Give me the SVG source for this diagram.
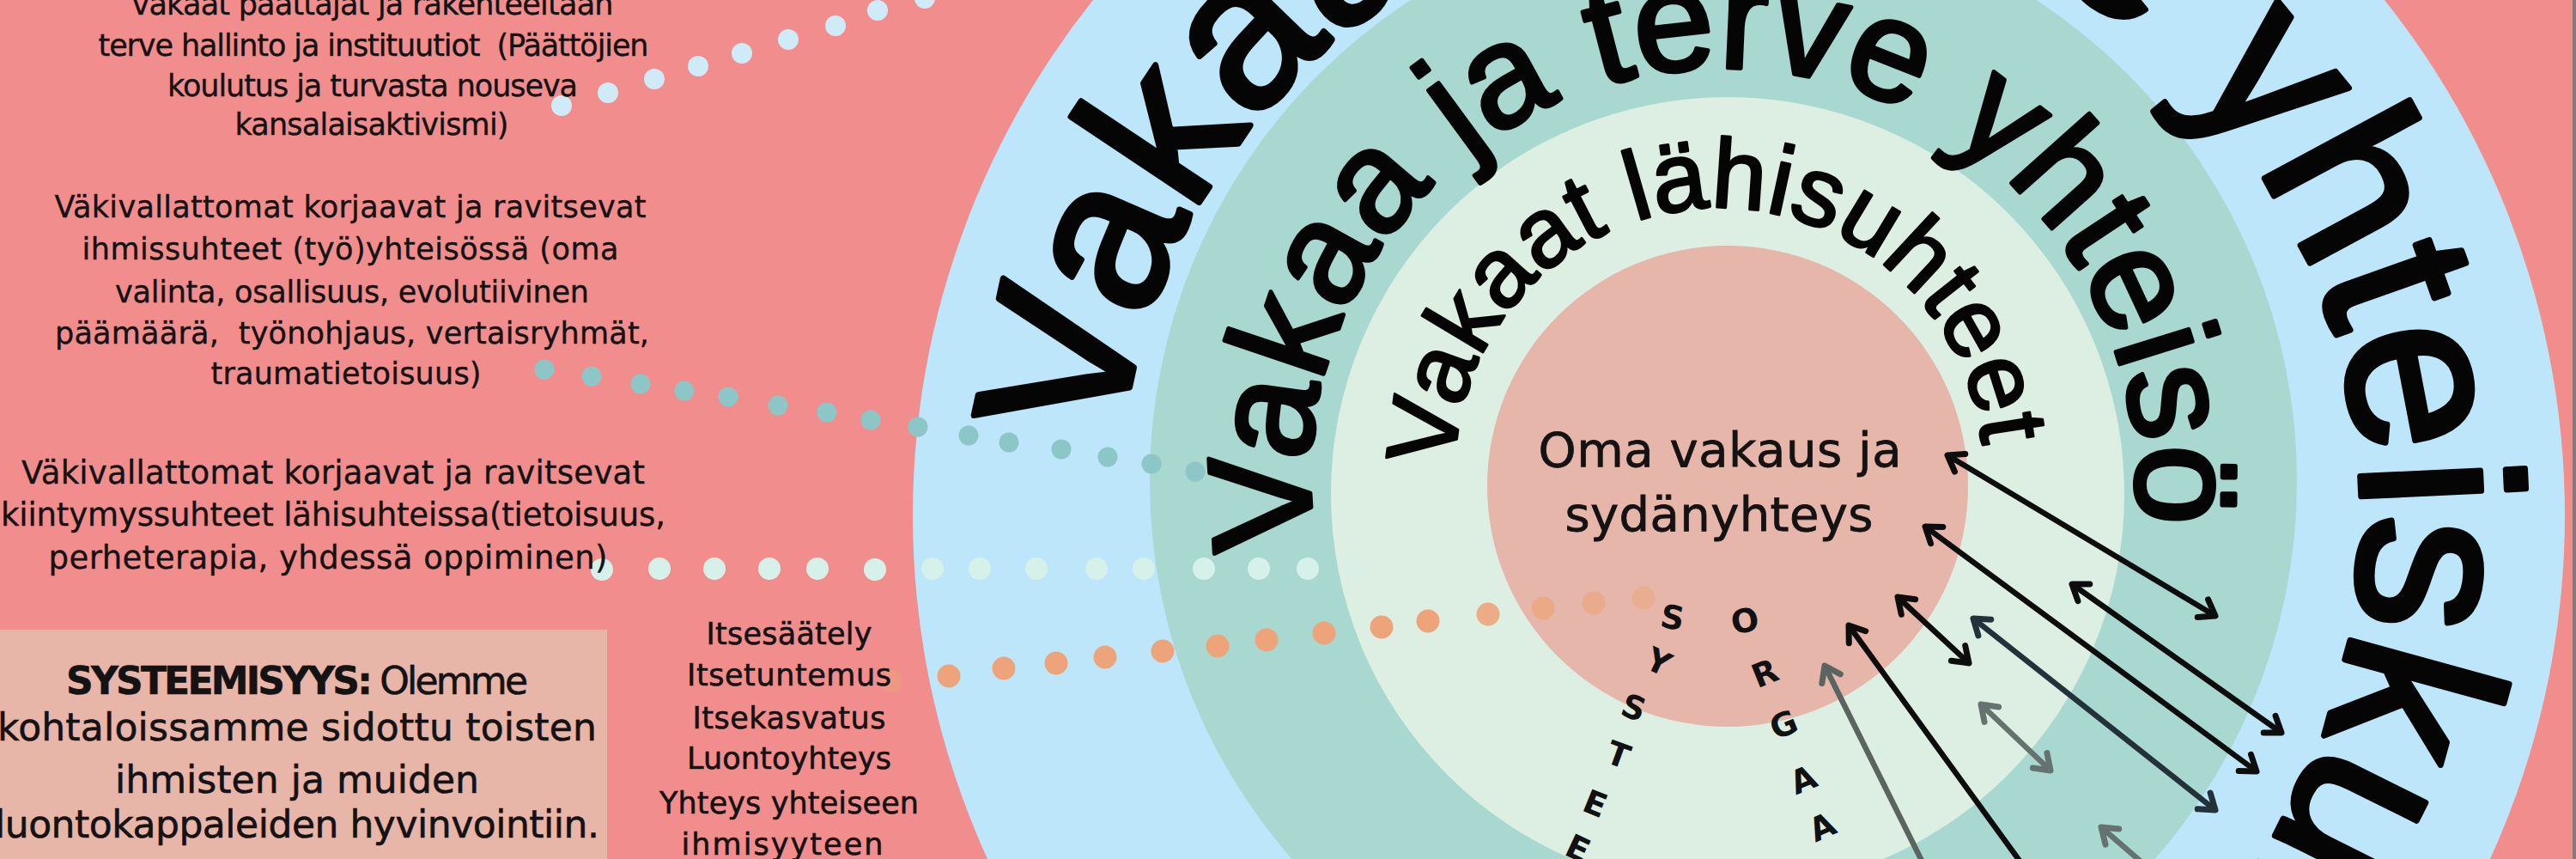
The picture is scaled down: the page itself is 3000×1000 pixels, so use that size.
<svg xmlns="http://www.w3.org/2000/svg" width="3000" height="1000" viewBox="0 0 3000 1000">
<defs>
<style>
.t{font-family:"DejaVu Sans","Noto Sans",sans-serif;fill:#141212;text-anchor:middle;stroke:#141212;stroke-width:0.4px;}
.f35{font-size:35px;}
.f37{font-size:37px;}
.f44{font-size:44px;}
.f56{font-size:56px;stroke-width:0.8px;}
.med{stroke-width:0.6px;}
.ring{font-family:"Liberation Sans",Arial,sans-serif;fill:#050505;stroke:#050505;stroke-linejoin:round;}
.lt{font-family:"DejaVu Sans",sans-serif;font-weight:bold;font-size:38px;fill:#111;text-anchor:middle;}
.db{fill:#CFEBF8;}
.dt{fill:#8DC6C6;}
.dp{fill:#D6F1EA;}
.do{fill:#EDA47B;}
.ln{fill:none;stroke-width:6.5px;}
.k{stroke:#0d0d0d;}
.dk{stroke:#23313a;}
.gr{stroke:#5c6462;}
.gr2{stroke:#65726f;}
</style>
<path id="pOuter" d="M2025,1325 A725,725 0 1,1 2025,-125 A725,725 0 1,1 2025,1325"/>
<path id="pMid" d="M2007,1041 A481,481 0 1,1 2007,79 A481,481 0 1,1 2007,1041"/>
<path id="pIn" d="M2002,858 A308,308 0 1,1 2002,242 A308,308 0 1,1 2002,858"/>
<marker id="mk" viewBox="-24 -17 28 34" refX="0" refY="0" markerWidth="28" markerHeight="34" markerUnits="userSpaceOnUse" orient="auto-start-reverse"><path d="M-17,-12 L0,0 L-17,12" fill="none" stroke="#0d0d0d" stroke-width="7" stroke-linecap="round" stroke-linejoin="round"/></marker>
<marker id="mdk" viewBox="-24 -17 28 34" refX="0" refY="0" markerWidth="28" markerHeight="34" markerUnits="userSpaceOnUse" orient="auto-start-reverse"><path d="M-17,-12 L0,0 L-17,12" fill="none" stroke="#23313a" stroke-width="7" stroke-linecap="round" stroke-linejoin="round"/></marker>
<marker id="mgr" viewBox="-24 -17 28 34" refX="0" refY="0" markerWidth="28" markerHeight="34" markerUnits="userSpaceOnUse" orient="auto-start-reverse"><path d="M-17,-12 L0,0 L-17,12" fill="none" stroke="#5c6462" stroke-width="7" stroke-linecap="round" stroke-linejoin="round"/></marker>
<marker id="mgr2" viewBox="-24 -17 28 34" refX="0" refY="0" markerWidth="28" markerHeight="34" markerUnits="userSpaceOnUse" orient="auto-start-reverse"><path d="M-17,-12 L0,0 L-17,12" fill="none" stroke="#65726f" stroke-width="7" stroke-linecap="round" stroke-linejoin="round"/></marker>
</defs>

<rect x="0" y="0" width="3000" height="1000" fill="#F18E8D"/>
<rect x="2996" y="0" width="4" height="1000" fill="#8a7676"/>

<g id="rings">
<circle id="ring-society" cx="2025" cy="600" r="962" fill="#BDE6FA"/>
<circle id="ring-community" cx="2007" cy="560" r="668" fill="#A9D8D1"/>
<circle id="ring-close" cx="2012" cy="575" r="462" fill="#DDEEE3"/>
<circle id="ring-self" cx="2012" cy="566" r="280" fill="#E5B6A9"/>
</g>

<g id="ring-labels">
<text class="ring" font-size="248" stroke-width="7"><textPath href="#pOuter" startOffset="1218">Vakaa ja terve</textPath></text>
<text class="ring" font-size="265" stroke-width="7"><textPath href="#pOuter" startOffset="2852">yhteiskunta</textPath></text>
<text class="ring" font-size="168" stroke-width="5"><textPath href="#pMid" startOffset="677">Vakaa ja terve yhteisö</textPath></text>
<text class="ring" font-size="114" stroke-width="3"><textPath href="#pIn" startOffset="490">Vakaat lähisuhteet</textPath></text>
</g>

<g id="node-self">
<text class="t f56" x="2003" y="543" textLength="423">Oma vakaus ja</text>
<text class="t f56" x="2002" y="618" textLength="359">sydänyhteys</text>
</g>

<g id="connectors">
<g id="dots-society">
<circle class="db" cx="654" cy="123" r="12"/>
<circle class="db" cx="708" cy="108" r="12"/>
<circle class="db" cx="762" cy="92" r="12"/>
<circle class="db" cx="813" cy="77" r="12"/>
<circle class="db" cx="864" cy="62" r="12"/>
<circle class="db" cx="918" cy="46" r="12"/>
<circle class="db" cx="973" cy="30" r="12"/>
<circle class="db" cx="1022" cy="12" r="12"/>
<circle class="db" cx="1077" cy="-2" r="12"/>
</g>
<g id="dots-community">
<circle class="dt" cx="634" cy="430" r="11.5"/>
<circle class="dt" cx="689" cy="438" r="11.5"/>
<circle class="dt" cx="746" cy="447" r="11.5"/>
<circle class="dt" cx="797" cy="455" r="11.5"/>
<circle class="dt" cx="848" cy="462" r="11.5"/>
<circle class="dt" cx="906" cy="472" r="11.5"/>
<circle class="dt" cx="963" cy="480" r="11.5"/>
<circle class="dt" cx="1014" cy="489" r="11.5"/>
<circle class="dt" cx="1069" cy="497" r="11.5"/>
<circle class="dt" cx="1128" cy="507" r="11.5"/>
<circle class="dt" cx="1175" cy="515" r="11.5"/>
<circle class="dt" cx="1236" cy="523" r="11.5"/>
<circle class="dt" cx="1290" cy="532" r="11.5"/>
<circle class="dt" cx="1341" cy="540" r="11.5"/>
<circle class="dt" cx="1392" cy="549" r="11.5"/>
</g>
<g id="dots-close">
<circle class="dp" cx="701" cy="663" r="13"/>
<circle class="dp" cx="768" cy="662" r="13"/>
<circle class="dp" cx="832" cy="662" r="13"/>
<circle class="dp" cx="896" cy="662" r="13"/>
<circle class="dp" cx="952" cy="662" r="13"/>
<circle class="dp" cx="1019" cy="663" r="13"/>
<circle class="dp" cx="1086" cy="662" r="13"/>
<circle class="dp" cx="1141" cy="662" r="13"/>
<circle class="dp" cx="1207" cy="662" r="13"/>
<circle class="dp" cx="1277" cy="662" r="13"/>
<circle class="dp" cx="1332" cy="662" r="13"/>
<circle class="dp" cx="1402" cy="662" r="13"/>
<circle class="dp" cx="1466" cy="662" r="13"/>
<circle class="dp" cx="1523" cy="662" r="13"/>
<circle class="dp" cx="1580" cy="662" r="13" opacity="0.45"/>
</g>
<g id="dots-self">
<circle class="do" cx="1038" cy="793" r="13.5" opacity="0.4"/>
<circle class="do" cx="1105" cy="787" r="13.5"/>
<circle class="do" cx="1169" cy="778" r="13.5"/>
<circle class="do" cx="1230" cy="772" r="13.5"/>
<circle class="do" cx="1287" cy="765" r="13.5"/>
<circle class="do" cx="1354" cy="758" r="13.5"/>
<circle class="do" cx="1418" cy="752" r="13.5"/>
<circle class="do" cx="1475" cy="745" r="13.5"/>
<circle class="do" cx="1542" cy="737" r="13.5"/>
<circle class="do" cx="1609" cy="730" r="13.5"/>
<circle class="do" cx="1663" cy="723" r="13.5"/>
<circle class="do" cx="1733" cy="715" r="13.5" opacity="0.9"/>
<circle class="do" cx="1797" cy="708" r="13.5" opacity="0.75"/>
<circle class="do" cx="1856" cy="702" r="13.5" opacity="0.6"/>
<circle class="do" cx="1914" cy="696" r="13.5" opacity="0.5"/>
</g>
<g id="arrows">
<path class="ln k" d="M2268,530 L2580,717" marker-start="url(#mk)" marker-end="url(#mk)"/>
<path class="ln k" d="M2242,613 L2628,898" marker-start="url(#mk)" marker-end="url(#mk)"/>
<path class="ln k" d="M2413,680 L2657,853" marker-start="url(#mk)" marker-end="url(#mk)"/>
<path class="ln k" d="M2210,695 L2293,772" marker-start="url(#mk)" marker-end="url(#mk)"/>
<path class="ln dk" d="M2298,720 L2580,943" marker-start="url(#mdk)" marker-end="url(#mdk)"/>
<path class="ln k" d="M2153,728 L2365,1020" marker-start="url(#mk)"/>
<path class="ln gr" d="M2125,775 L2247,1020" marker-start="url(#mgr)"/>
<path class="ln gr2" d="M2307,820 L2388,897" marker-start="url(#mgr2)" marker-end="url(#mgr2)"/>
<path class="ln gr2" d="M2447,963 L2513,1020" marker-start="url(#mgr2)"/>
</g>
</g>

<g id="vertical-letters">
<text class="lt" x="1948" y="732" transform="rotate(10 1948 718)">S</text>
<text class="lt" x="1932" y="784" transform="rotate(25 1932 770)">Y</text>
<text class="lt" x="1903" y="837" transform="rotate(20 1903 823)">S</text>
<text class="lt" x="1885" y="892" transform="rotate(20 1885 878)">T</text>
<text class="lt" x="1858" y="949" transform="rotate(22 1858 935)">E</text>
<text class="lt" x="1838" y="1001" transform="rotate(25 1838 987)">E</text>
<text class="lt" x="2032" y="736" transform="rotate(-10 2032 722)">O</text>
<text class="lt" x="2055" y="797" transform="rotate(-22 2055 783)">R</text>
<text class="lt" x="2077" y="857" transform="rotate(-22 2077 843)">G</text>
<text class="lt" x="2100" y="921" transform="rotate(-22 2100 907)">A</text>
<text class="lt" x="2122" y="976" transform="rotate(-24 2122 962)">A</text>
</g>

<g id="node-society-text">
<text class="t f35" x="434" y="17" textLength="561">vakaat päättäjät ja rakenteeltaan</text>
<text class="t f35" x="435" y="65" textLength="641" xml:space="preserve">terve hallinto ja instituutiot  (Päättöjien</text>
<text class="t f35" x="434" y="112" textLength="478">koulutus ja turvasta nouseva</text>
<text class="t f35" x="433" y="157" textLength="319">kansalaisaktivismi)</text>
</g>

<g id="node-community-text">
<text class="t f35" x="408" y="253" textLength="689">Väkivallattomat korjaavat ja ravitsevat</text>
<text class="t f35" x="408" y="302" textLength="625">ihmissuhteet (työ)yhteisössä (oma</text>
<text class="t f35" x="410" y="352" textLength="552">valinta, osallisuus, evolutiivinen</text>
<text class="t f35" x="410" y="400" textLength="692" xml:space="preserve">päämäärä,  työnohjaus, vertaisryhmät,</text>
<text class="t f35" x="403" y="447" textLength="315">traumatietoisuus)</text>
</g>

<g id="node-close-text">
<text class="t f37" x="388" y="563" textLength="726">Väkivallattomat korjaavat ja ravitsevat</text>
<text class="t f37" x="388" y="612" textLength="774">kiintymyssuhteet lähisuhteissa(tietoisuus,</text>
<text class="t f37" x="382" y="662" textLength="651">perheterapia, yhdessä oppiminen)</text>
</g>

<g id="node-systemic">
<rect x="0" y="733" width="707" height="267" fill="#E8B5A9"/>
<text class="t f44 med" x="346" y="808" textLength="538"><tspan font-weight="bold">SYSTEEMISYYS:</tspan> Olemme</text>
<text class="t f44 med" x="346" y="862" textLength="698">kohtaloissamme sidottu toisten</text>
<text class="t f44 med" x="346" y="923" textLength="424">ihmisten ja muiden</text>
<text class="t f44 med" x="346" y="975" textLength="704">luontokappaleiden hyvinvointiin.</text>
</g>

<g id="node-self-list">
<text class="t f35 med" x="919" y="750" textLength="193">Itsesäätely</text>
<text class="t f35 med" x="919" y="798" textLength="238">Itsetuntemus</text>
<text class="t f35 med" x="919" y="848" textLength="225">Itsekasvatus</text>
<text class="t f35 med" x="919" y="895" textLength="238">Luontoyhteys</text>
<text class="t f35 med" x="919" y="947" textLength="302">Yhteys yhteiseen</text>
<text class="t f35 med" x="911" y="995" textLength="235">ihmisyyteen</text>
</g>
</svg>
